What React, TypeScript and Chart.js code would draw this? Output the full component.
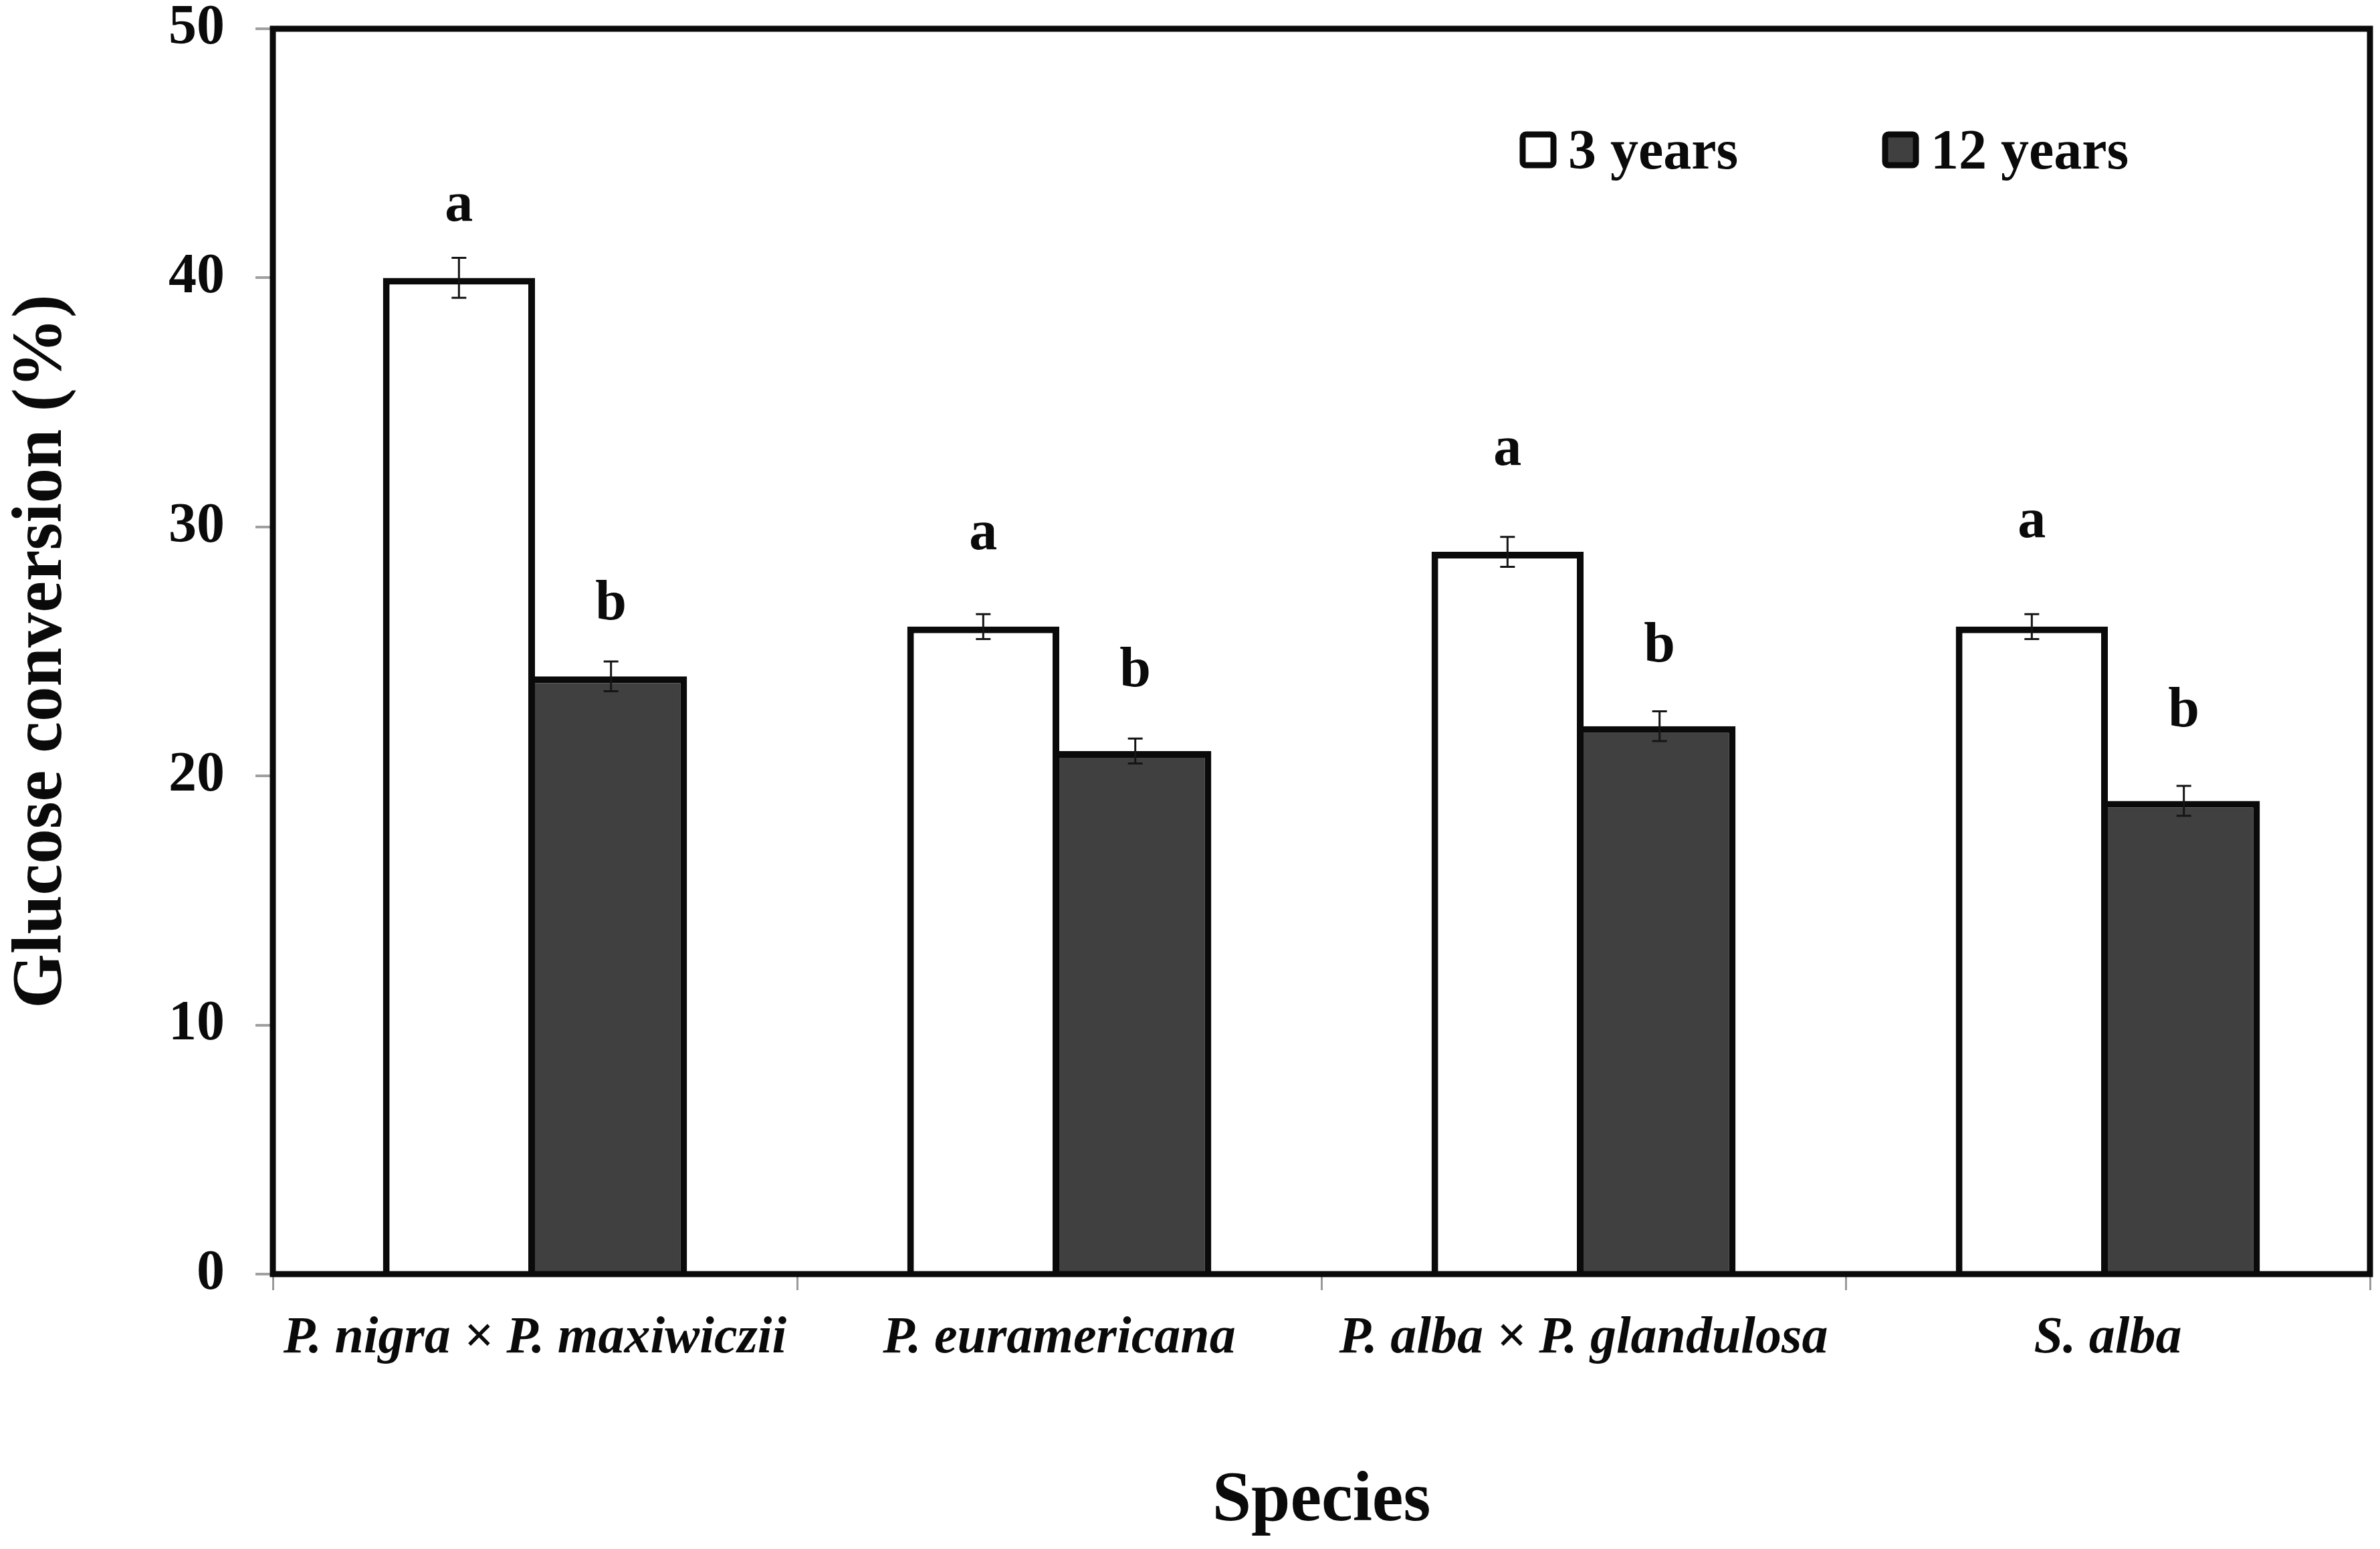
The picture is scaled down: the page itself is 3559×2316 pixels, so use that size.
import React, { useEffect, useRef } from 'react';
import { Chart, registerables } from 'chart.js';

Chart.register(...registerables);

// ---- data ----
const categories = ['P. nigra × P. maxiwiczii', 'P. euramericana', 'P. alba × P. glandulosa', 'S. alba'];
const seriesNames = ['3 years', '12 years'];
const values3 = [40, 26, 29, 26];
const values12 = [24, 21, 22, 19];
const err3 = [0.8, 0.5, 0.6, 0.5];
const err12 = [0.6, 0.5, 0.6, 0.6];
const letters3 = ['a', 'a', 'a', 'a'];
const letters12 = ['b', 'b', 'b', 'b'];
const letterPos3 = [42.3, 29.1, 32.5, 29.6];
const letterPos12 = [26.3, 23.6, 24.6, 22.0];
const yTicks = [0, 10, 20, 30, 40, 50];
const yTitle = 'Glucose conversion (%)';
const xTitle = 'Species';

const W = 3559;
const H = 2316;
const FONT = '"Liberation Serif", "Times New Roman", serif';
const WHITE = '#ffffff';
const DARK = '#404040';
const INK = '#0a0a0a';

const annotPlugin = {
  id: 'annot',
  afterDatasetsDraw(chart: any) {
    const ctx = chart.ctx;
    const ys = chart.scales.y;
    const sets = [
      { vals: values3, errs: err3, lets: letters3, pos: letterPos3 },
      { vals: values12, errs: err12, lets: letters12, pos: letterPos12 },
    ];
    ctx.save();
    sets.forEach((s, di) => {
      const meta = chart.getDatasetMeta(di);
      meta.data.forEach((bar: any, i: number) => {
        const x = bar.x;
        const yTop = ys.getPixelForValue(s.vals[i] + s.errs[i]);
        const yBot = ys.getPixelForValue(s.vals[i] - s.errs[i]);
        ctx.strokeStyle = '#151515';
        ctx.lineWidth = 3;
        ctx.beginPath();
        ctx.moveTo(x, yTop);
        ctx.lineTo(x, yBot);
        ctx.moveTo(x - 11, yTop);
        ctx.lineTo(x + 11, yTop);
        ctx.moveTo(x - 11, yBot);
        ctx.lineTo(x + 11, yBot);
        ctx.stroke();
        ctx.fillStyle = INK;
        ctx.font = `bold 84px ${FONT}`;
        ctx.textAlign = 'center';
        ctx.textBaseline = 'alphabetic';
        ctx.fillText(s.lets[i], x, ys.getPixelForValue(s.pos[i]));
      });
    });
    ctx.restore();
  },
  afterDraw(chart: any) {
    const ctx = chart.ctx;
    const a = chart.chartArea;
    ctx.save();
    // frame
    ctx.strokeStyle = INK;
    ctx.lineWidth = 9;
    ctx.strokeRect(a.left, a.top, a.right - a.left, a.bottom - a.top);
    // legend
    const items = [
      { x: 2277, fill: WHITE, label: seriesNames[0] },
      { x: 2819, fill: DARK, label: seriesNames[1] },
    ];
    items.forEach((it) => {
      const bx = it.x, by = 201, bs = 46;
      ctx.lineWidth = 9;
      ctx.strokeStyle = INK;
      ctx.fillStyle = it.fill;
      ctx.beginPath();
      (ctx as any).roundRect(bx, by, bs, bs, 5);
      ctx.fill();
      ctx.stroke();
      ctx.fillStyle = INK;
      ctx.font = `bold 84px ${FONT}`;
      ctx.textAlign = 'left';
      ctx.textBaseline = 'alphabetic';
      ctx.fillText(it.label, bx + bs + 22, 252);
    });
    ctx.restore();
  },
};

export default function App() {
  const ref = useRef<HTMLCanvasElement | null>(null);
  useEffect(() => {
    document.body.style.margin = '0';
    const canvas = ref.current;
    if (!canvas) return;
    const chart = new Chart(canvas, {
      type: 'bar',
      data: {
        labels: categories,
        datasets: [
          {
            label: seriesNames[0],
            data: values3,
            backgroundColor: WHITE,
            borderColor: INK,
            borderWidth: { top: 10, left: 10, right: 10, bottom: 0 },
            borderSkipped: false,
            categoryPercentage: 0.58,
            barPercentage: 1.0,
          },
          {
            label: seriesNames[1],
            data: values12,
            backgroundColor: DARK,
            borderColor: INK,
            borderWidth: { top: 10, left: 0, right: 10, bottom: 0 },
            borderSkipped: false,
            categoryPercentage: 0.58,
            barPercentage: 1.0,
          },
        ],
      },
      options: {
        responsive: false,
        animation: false,
        devicePixelRatio: 1,
        layout: { padding: { top: 43, right: 15, left: 0, bottom: 0 } },
        plugins: {
          legend: { display: false },
          tooltip: { enabled: false },
        },
        scales: {
          x: {
            afterFit: (s: any) => {
              s.height = H - 1905;
              s.paddingLeft = 0;
              s.paddingRight = 0;
            },
            grid: {
              offset: true,
              drawOnChartArea: false,
              drawTicks: true,
              tickLength: 24,
              color: '#9a9a9a',
              lineWidth: 3,
            },
            border: { display: false },
            ticks: {
              color: INK,
              font: { family: FONT, size: 78, weight: 'bold', style: 'italic' },
              padding: 26,
              maxRotation: 0,
              autoSkip: false,
            },
            title: {
              display: true,
              text: xTitle,
              color: INK,
              font: { family: FONT, size: 105, weight: 'bold' },
              padding: { top: 0, bottom: 7 },
            },
          },
          y: {
            min: 0,
            max: 50,
            afterFit: (s: any) => {
              s.width = 408;
              s.paddingTop = 0;
              s.paddingBottom = 0;
            },
            afterBuildTicks: (s: any) => { s.ticks = yTicks.map((v) => ({ value: v })); },
            grid: {
              drawOnChartArea: false,
              drawTicks: true,
              tickLength: 26,
              color: '#a0a0a0',
              lineWidth: 4,
            },
            border: { display: false },
            ticks: {
              color: INK,
              font: { family: FONT, size: 84, weight: 'bold' },
              padding: 46,
            },
            title: {
              display: true,
              text: yTitle,
              color: INK,
              font: { family: FONT, size: 105, weight: 'bold' },
              padding: { top: 1, bottom: 0 },
            },
          },
        },
      },
      plugins: [annotPlugin],
    } as any);
    return () => chart.destroy();
  }, []);
  return (
    <div style={{ position: 'absolute', left: 0, top: 0, width: W, height: H, background: '#fff' }}>
      <canvas ref={ref} width={W} height={H} style={{ display: 'block', width: W, height: H }} />
    </div>
  );
}
